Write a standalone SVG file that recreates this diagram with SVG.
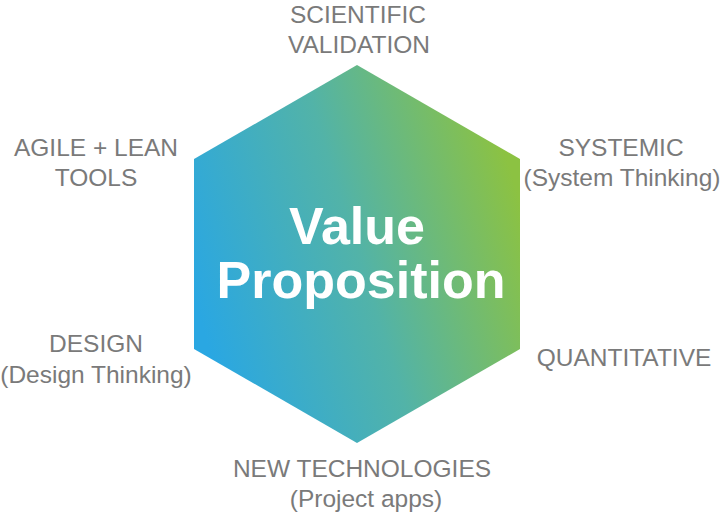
<svg xmlns="http://www.w3.org/2000/svg" width="722" height="514" viewBox="0 0 722 514">
  <defs>
    <linearGradient id="hexGrad" gradientUnits="userSpaceOnUse" x1="194" y1="300" x2="520" y2="200">
      <stop offset="0" stop-color="#2aa7e2"/>
      <stop offset="0.5" stop-color="#52b3a8"/>
      <stop offset="1" stop-color="#8cc242"/>
    </linearGradient>
    <style>
      .lbl { font-family: "Liberation Sans", Arial, sans-serif; font-size: 24.5px; fill: #7a7a7a; text-anchor: middle; }
      .main { font-family: "Liberation Sans", Arial, sans-serif; font-weight: bold; font-size: 52px; fill: #ffffff; text-anchor: middle; }
    </style>
  </defs>
  <rect width="722" height="514" fill="#ffffff"/>
  <g id="hexagon">
    <polygon points="357,65 520,159 520,349 357,443 194,349 194,159" fill="url(#hexGrad)"/>
    <text class="main" x="357" y="244">Value</text>
    <text class="main" x="361" y="298">Proposition</text>
  </g>
  <g id="scientific">
    <text class="lbl" x="358" y="23">SCIENTIFIC</text>
    <text class="lbl" x="359" y="53">VALIDATION</text>
  </g>
  <g id="agile">
    <text class="lbl" x="96" y="156">AGILE + LEAN</text>
    <text class="lbl" x="96" y="186">TOOLS</text>
  </g>
  <g id="systemic">
    <text class="lbl" x="621" y="156">SYSTEMIC</text>
    <text class="lbl" x="622" y="186">(System Thinking)</text>
  </g>
  <g id="design">
    <text class="lbl" x="96" y="352">DESIGN</text>
    <text class="lbl" x="96" y="383">(Design Thinking)</text>
  </g>
  <g id="quantitative">
    <text class="lbl" x="624" y="366">QUANTITATIVE</text>
  </g>
  <g id="newtech">
    <text class="lbl" x="362" y="477">NEW TECHNOLOGIES</text>
    <text class="lbl" x="366" y="507">(Project apps)</text>
  </g>
  <g id="connectors"/>
</svg>
